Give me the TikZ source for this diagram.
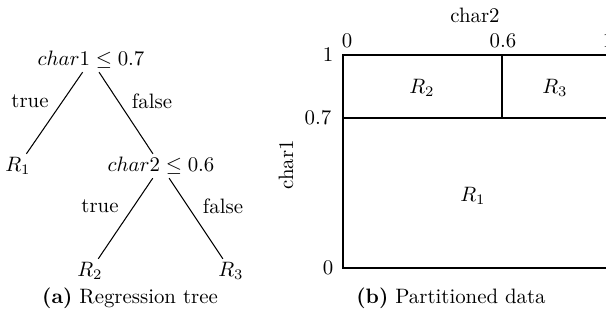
\documentclass[tikz,border=0pt]{standalone}
\begin{document}
\begin{tikzpicture}[x=0.48pt,y=-0.48pt,
  lbl/.style={inner sep=1.5pt},
  edge/.style={line width=0.5pt},
  frame/.style={line width=0.5pt}]
\useasboundingbox (0,0) rectangle (606,324);
% (a) tree
\node[lbl] (n1) at (91,60) {$char1 \leq 0.7$};
\node[lbl] (r1) at (18,166) {$R_1$};
\node[lbl] (n2) at (161,166) {$char2 \leq 0.6$};
\node[lbl] (r2) at (90,271) {$R_2$};
\node[lbl] (r3) at (231,271) {$R_3$};
\draw[edge] (n1) -- (r1);
\draw[edge] (n1) -- (n2);
\draw[edge] (n2) -- (r2);
\draw[edge] (n2) -- (r3);
\node (t1) at (30,101) {true};
\node (f1) at (152,101) {false};
\node (t2) at (100,206) {true};
\node (f2) at (223,206) {false};
\node (ca) at (130,298) {\textbf{(a)} Regression tree};
% (b) partition
\coordinate (bl) at (343,268);
\coordinate (tl) at (343,55);
\coordinate (tr) at (608,55);
\coordinate (br) at (608,268);
\draw[frame] (bl) -- (tl) -- (tr) -- (br) -- cycle;
\draw[frame] (343,118) -- (608,118);
\draw[frame] (502,55) -- (502,118);
\node (xl) at (475,15) {char2};
\node (x0) at (347,41) {0};
\node (x6) at (503,41) {0.6};
\node (x1) at (608,41) {1};
\node (y1) at (328,55) {1};
\node (y7) at (318,118) {0.7};
\node (y0) at (328,268) {0};
\node[rotate=90] (yl) at (286,165) {char1};
\node (g2) at (422,88) {$R_2$};
\node (g3) at (555,88) {$R_3$};
\node (g1) at (473,196) {$R_1$};
\node (cb) at (451,298) {\textbf{(b)} Partitioned data};
\end{tikzpicture}
\end{document}
